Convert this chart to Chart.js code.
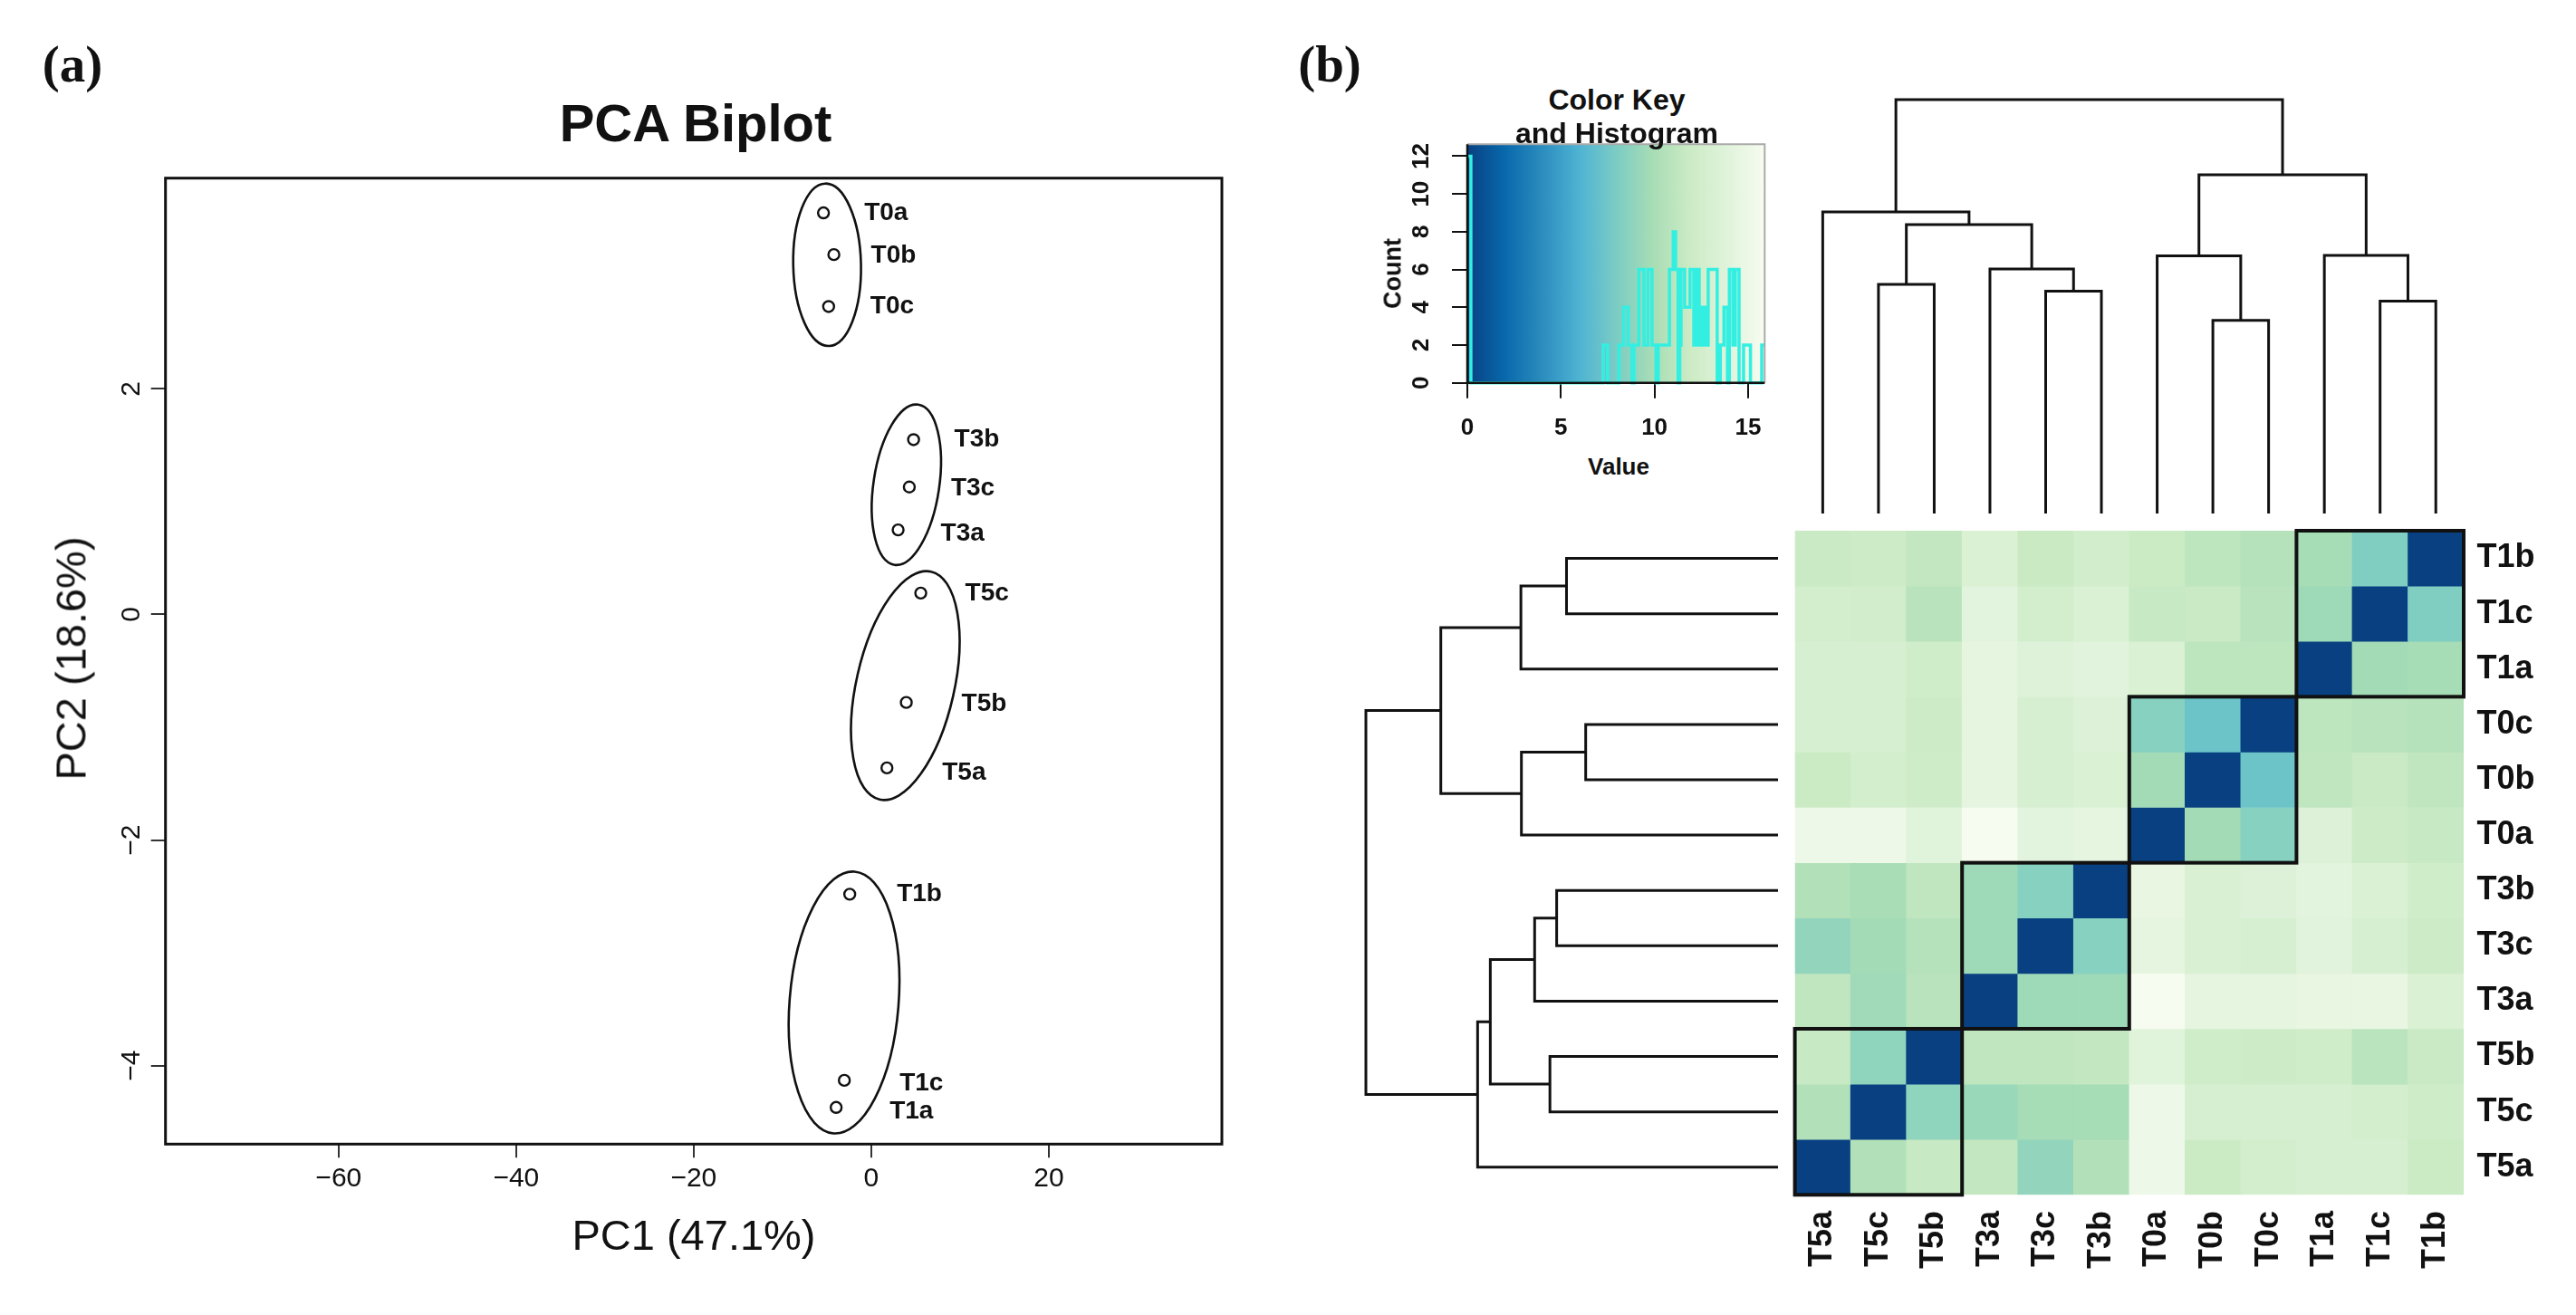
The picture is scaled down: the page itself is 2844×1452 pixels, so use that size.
<!DOCTYPE html>
<html>
<head>
<meta charset="utf-8">
<title>PCA biplot and sample distance heatmap</title>
<script src="https://cdn.jsdelivr.net/npm/chart.js@4.4.1/dist/chart.umd.min.js"></script>
<style>
  html, body { margin: 0; padding: 0; background: #fff; }
  body { width: 2844px; height: 1452px; position: relative; overflow: hidden;
         font-family: "Liberation Sans", Arial, sans-serif; color: #111; }
  canvas { position: absolute; }
  .lbl { position: absolute; line-height: 1; white-space: nowrap; transform: translate(-50%, -50%); }
  .rot { transform: translate(-50%, -50%) rotate(-90deg); }
  .serif { font-family: "Liberation Serif", "DejaVu Serif", serif; font-weight: bold; }
</style>
</head>
<body>
<canvas id="pca" width="1420" height="1452" style="left:0px;top:0px"></canvas>
<canvas id="key" width="490" height="360" style="left:1500px;top:140px"></canvas>
<canvas id="cdend" width="780" height="500" style="left:1960px;top:90px"></canvas>
<canvas id="rdend" width="495" height="774" style="left:1490px;top:566px"></canvas>
<canvas id="heat" width="869" height="882" style="left:1975px;top:570px"></canvas>

<div class="lbl serif" style="left:80px;top:70px;font-size:57px">(a)</div>
<div class="lbl serif" style="left:1468px;top:70px;font-size:57px">(b)</div>
<div class="lbl" style="left:768px;top:136px;font-size:58px;font-weight:bold">PCA Biplot</div>
<div class="lbl" style="left:766px;top:1363px;font-size:47px">PC1 (47.1%)</div>
<div class="lbl rot" style="left:78px;top:727px;font-size:47px">PC2 (18.6%)</div>
<div class="lbl" style="left:1785px;top:110px;font-size:32px;font-weight:bold">Color Key</div>
<div class="lbl" style="left:1785px;top:147px;font-size:32px;font-weight:bold">and Histogram</div>
<div class="lbl rot" style="left:1538px;top:302px;font-size:27px;font-weight:bold">Count</div>
<div class="lbl" style="left:1787px;top:515px;font-size:26px;font-weight:bold">Value</div>

<script>
// ---- PCA scores ----
const sampleNames = ['T0a', 'T0b', 'T0c', 'T3b', 'T3c', 'T3a', 'T5c', 'T5b', 'T5a', 'T1b', 'T1c', 'T1a'];
const pc1 = [-5.38, -4.21, -4.80, 4.77, 4.29, 3.03, 5.58, 3.95, 1.77, -2.42, -3.03, -3.95];
const pc2 = [3.56, 3.19, 2.73, 1.55, 1.13, 0.75, 0.19, -0.78, -1.36, -2.48, -4.13, -4.37];
const pcaXTicks = [-60, -40, -20, 0, 20];
const pcaYTicks = [-4, -2, 0, 2];

// group ellipses: centre, major semi-axis (data units), minor/major ratio
const ellipseGroups = ['T0', 'T3', 'T5', 'T1'];
const ellipseCenterX = [-4.97, 3.96, 3.84, -3.06];
const ellipseCenterY = [3.10, 1.15, -0.63, -3.44];
const ellipseMajorX = [-0.20, 1.34, 2.90, 1.19];
const ellipseMajorY = [0.72, 0.71, 1.01, 1.16];
const ellipseRatio = [0.417, 0.406, 0.419, 0.415];

// ---- sample distance heatmap ----
const colLabels = ['T5a', 'T5c', 'T5b', 'T3a', 'T3c', 'T3b', 'T0a', 'T0b', 'T0c', 'T1a', 'T1c', 'T1b'];
const rowLabels = ['T1b', 'T1c', 'T1a', 'T0c', 'T0b', 'T0a', 'T3b', 'T3c', 'T3a', 'T5b', 'T5c', 'T5a'];
const distRows = [
  [11.75, 11.99, 11.42, 13.30, 11.80, 12.42, 11.86, 11.09, 10.65, 9.85, 8.17, 0],
  [12.61, 12.42, 10.81, 14.16, 12.61, 13.30, 11.64, 11.75, 10.81, 9.50, 0, 8.17],
  [12.91, 12.91, 12.32, 14.33, 13.70, 13.99, 13.30, 11.09, 11.09, 0, 9.71, 9.85],
  [12.91, 12.91, 11.99, 14.33, 13.00, 13.50, 8.48, 7.29, 0, 11.09, 10.81, 10.65],
  [11.86, 12.61, 12.22, 14.33, 12.91, 13.30, 9.71, 0, 7.29, 11.25, 11.75, 11.25],
  [15.11, 15.11, 13.90, 15.89, 14.16, 14.33, 0, 9.71, 8.48, 13.50, 11.99, 11.64],
  [10.48, 9.93, 11.25, 9.50, 8.48, 0, 14.59, 13.20, 13.50, 14.16, 13.30, 12.32],
  [8.96, 9.71, 10.65, 9.50, 0, 8.48, 14.33, 13.20, 12.91, 13.99, 12.91, 11.99],
  [11.25, 9.60, 10.81, 0, 9.50, 9.50, 15.89, 14.33, 14.33, 14.59, 14.59, 13.30],
  [11.64, 8.83, 0, 11.25, 11.25, 11.42, 13.90, 12.32, 11.99, 12.32, 10.90, 11.75],
  [10.48, 0, 8.83, 9.32, 9.85, 9.85, 15.11, 12.91, 12.91, 12.91, 12.61, 12.22],
  [0, 10.48, 11.64, 11.42, 8.96, 10.48, 15.11, 11.86, 12.61, 12.91, 12.91, 11.86]
];
const clusterCols = [[9, 11], [6, 8], [3, 5], [0, 2]];
const clusterRows = [[0, 2], [3, 5], [6, 8], [9, 11]];

// hierarchical clustering (complete linkage), merges in order, 'mK' = K-th merge
const mergeLeft = ['T0b', 'T1c', 'T3c', 'T5c', 'T3a', 'T0a', 'T1a', 'm4', 'T5a', 'm6', 'm9'];
const mergeRight = ['T0c', 'T1b', 'T3b', 'T5b', 'm3', 'm1', 'm2', 'm5', 'm8', 'm7', 'm10'];
const mergeHeight = [7.42, 8.16, 8.54, 8.80, 9.39, 9.90, 9.92, 11.10, 11.59, 13.01, 15.90];

// ---- colour key and histogram ----
const keyRange = [0, 15.89];
const keyTicksX = [0, 5, 10, 15];
const keyTicksY = [0, 2, 4, 6, 8, 10, 12];
const histEdges = [0, 0.19, 7.26, 7.50, 8.10, 8.35, 8.60, 8.80, 8.90, 9.16, 9.44, 9.65, 9.87, 10.08,
  10.20, 10.80, 11.00, 11.13, 11.26, 11.35, 11.42, 11.61, 11.90, 12.10, 12.23, 12.39, 12.55, 12.71,
  12.87, 13.35, 13.52, 13.71, 13.90, 14.00, 14.19, 14.32, 14.52, 14.76, 15.13, 15.73, 15.89];
const histCounts = [12, 0, 2, 0, 2, 4, 2, 0, 2, 6, 2, 6, 2, 0, 2, 6, 8, 6, 0, 2, 6, 4, 6, 2, 6, 2,
  4, 2, 6, 0, 2, 4, 0, 6, 2, 6, 0, 2, 0, 2];

// reversed GnBu
const palette = ['#084081', '#0868ac', '#2b8cbe', '#4eb3d3', '#7bccc4', '#a8ddb5', '#ccebc5', '#e0f3db', '#f7fcf0'];

const FONT = '"Liberation Sans", Arial, sans-serif';
Chart.defaults.font.family = FONT;
Chart.defaults.color = '#111';

function hexRgb(h) {
  return [parseInt(h.slice(1, 3), 16), parseInt(h.slice(3, 5), 16), parseInt(h.slice(5, 7), 16)];
}

function valueToColor(v) {
  const t = Math.max(0, Math.min(1, (v - keyRange[0]) / (keyRange[1] - keyRange[0]))) * (palette.length - 1);
  const i = Math.min(Math.floor(t), palette.length - 2);
  const f = t - i;
  const a = hexRgb(palette[i]), b = hexRgb(palette[i + 1]);
  const c = a.map((x, k) => Math.round(x + (b[k] - x) * f));
  return 'rgb(' + c.join(',') + ')';
}

function minus(v) {
  return v < 0 ? '\u2212' + Math.abs(v) : String(v);
}

function fixTicks(list) {
  return function (scale) {
    scale.ticks = list.map((v) => ({ value: v }));
  };
}

// tick labels turned 90 degrees, R style
const rotatedTicks = {
  id: 'rotatedTicks',
  afterDraw(chart, args, opts) {
    (opts.items || []).forEach((it) => {
      const scale = chart.scales[it.scale];
      const ca = chart.chartArea;
      const ctx = chart.ctx;
      ctx.save();
      ctx.font = it.font;
      ctx.fillStyle = '#111';
      ctx.textAlign = it.align;
      ctx.textBaseline = 'middle';
      scale.ticks.forEach((t, i) => {
        const p = scale.getPixelForValue(t.value);
        const text = it.labels ? it.labels[i] : minus(t.value);
        const x = scale.isHorizontal() ? p : ca.left - it.offset;
        const y = scale.isHorizontal() ? ca.bottom + it.offset : p;
        ctx.save();
        ctx.translate(x, y);
        ctx.rotate(-Math.PI / 2);
        ctx.fillText(text, 0, 0);
        ctx.restore();
      });
      ctx.restore();
    });
  }
};

const noChrome = { legend: { display: false }, tooltip: { enabled: false } };

// ---------------- (a) PCA biplot ----------------
const pcaDecor = {
  id: 'pcaDecor',
  afterDatasetsDraw(chart) {
    const xs = chart.scales.x, ys = chart.scales.y, ctx = chart.ctx;
    ctx.save();
    ctx.strokeStyle = '#111';
    ctx.lineWidth = 2.6;
    ellipseGroups.forEach((g, i) => {
      const cx = xs.getPixelForValue(ellipseCenterX[i]);
      const cy = ys.getPixelForValue(ellipseCenterY[i]);
      const vx = xs.getPixelForValue(ellipseCenterX[i] + ellipseMajorX[i]) - cx;
      const vy = ys.getPixelForValue(ellipseCenterY[i] + ellipseMajorY[i]) - cy;
      const a = Math.hypot(vx, vy);
      ctx.beginPath();
      ctx.ellipse(cx, cy, a, a * ellipseRatio[i], Math.atan2(vy, vx), 0, Math.PI * 2);
      ctx.stroke();
    });
    const labelDx = [45, 41, 46, 45, 46, 47, 49, 61, 61, 52, 61, 59];
    const labelDy = [0, 1, 0, 0, 2, 4, 0, 2, 5, 0, 3, 4];
    ctx.font = 'bold 28px ' + FONT;
    ctx.fillStyle = '#111';
    ctx.textAlign = 'left';
    ctx.textBaseline = 'middle';
    sampleNames.forEach((n, i) => {
      ctx.fillText(n, xs.getPixelForValue(pc1[i]) + labelDx[i], ys.getPixelForValue(pc2[i]) + labelDy[i]);
    });
    ctx.restore();
  },
  afterDraw(chart) {
    const ca = chart.chartArea, ctx = chart.ctx;
    ctx.save();
    ctx.strokeStyle = '#111';
    ctx.lineWidth = 3;
    ctx.strokeRect(ca.left, ca.top, ca.right - ca.left, ca.bottom - ca.top);
    ctx.restore();
  }
};

new Chart(document.getElementById('pca'), {
  type: 'scatter',
  data: {
    datasets: [{
      data: sampleNames.map((n, i) => ({ x: pc1[i], y: pc2[i] })),
      pointStyle: 'circle',
      pointRadius: 6,
      pointBorderWidth: 2.4,
      pointBorderColor: '#111',
      pointBackgroundColor: 'rgba(255,255,255,0)'
    }]
  },
  options: {
    responsive: false,
    animation: false,
    devicePixelRatio: 1,
    layout: { padding: { left: 0, top: 196.7, right: 71, bottom: 0 } },
    plugins: {
      ...noChrome,
      rotatedTicks: { items: [{ scale: 'y', font: '30px ' + FONT, align: 'center', offset: 36.7 }] }
    },
    scales: {
      x: {
        type: 'linear', min: -79.5, max: 39.5,
        afterBuildTicks: fixTicks(pcaXTicks),
        afterFit: (s) => { s.height = 188.7; },
        grid: { drawOnChartArea: false, drawTicks: true, tickLength: 15, color: '#333', lineWidth: 2 },
        border: { display: false },
        ticks: { font: { size: 30 }, color: '#111', padding: 5.4, maxRotation: 0, autoSkip: false, callback: (v) => minus(v) }
      },
      y: {
        type: 'linear', min: -4.695, max: 3.868,
        afterBuildTicks: fixTicks(pcaYTicks),
        afterFit: (s) => { s.width = 182.7; },
        grid: { drawOnChartArea: false, drawTicks: true, tickLength: 16, color: '#333', lineWidth: 2 },
        border: { display: false },
        ticks: { display: false }
      }
    }
  },
  plugins: [pcaDecor, rotatedTicks]
});

// ---------------- (b) colour key + histogram ----------------
const keyDecor = {
  id: 'keyDecor',
  beforeDatasetsDraw(chart) {
    const ca = chart.chartArea, ctx = chart.ctx, xs = chart.scales.x;
    const g = ctx.createLinearGradient(ca.left, 0, ca.right, 0);
    palette.forEach((c, i) => {
      const v = keyRange[0] + (keyRange[1] - keyRange[0]) * i / (palette.length - 1);
      const f = (xs.getPixelForValue(v) - ca.left) / (ca.right - ca.left);
      g.addColorStop(Math.max(0, Math.min(1, f)), c);
    });
    ctx.save();
    ctx.fillStyle = g;
    ctx.fillRect(ca.left, ca.top, ca.right - ca.left, ca.bottom - ca.top);
    ctx.restore();
  },
  afterDraw(chart) {
    const ca = chart.chartArea, ctx = chart.ctx;
    ctx.save();
    ctx.lineWidth = 2;
    ctx.strokeStyle = '#aaa';
    ctx.beginPath();
    ctx.moveTo(ca.left, ca.top); ctx.lineTo(ca.right, ca.top); ctx.lineTo(ca.right, ca.bottom);
    ctx.stroke();
    ctx.lineWidth = 2.5;
    ctx.strokeStyle = '#111';
    ctx.beginPath();
    ctx.moveTo(ca.left, ca.top); ctx.lineTo(ca.left, ca.bottom); ctx.lineTo(ca.right, ca.bottom);
    ctx.stroke();
    ctx.restore();
  }
};

new Chart(document.getElementById('key'), {
  type: 'scatter',
  data: {
    datasets: [{
      data: histEdges.map((e, i) => ({ x: e, y: histCounts[Math.min(i, histCounts.length - 1)] })),
      showLine: true,
      stepped: 'before',
      borderColor: '#33efe2',
      borderWidth: 3.5,
      pointRadius: 0,
      clip: false
    }]
  },
  options: {
    responsive: false,
    animation: false,
    devicePixelRatio: 1,
    layout: { padding: { left: 0, top: 19.3, right: 41.7, bottom: 0 } },
    plugins: {
      ...noChrome,
      rotatedTicks: { items: [{ scale: 'y', font: 'bold 26px ' + FONT, align: 'center', offset: 50 }] }
    },
    scales: {
      x: {
        type: 'linear', min: keyRange[0], max: keyRange[1], z: 1,
        afterBuildTicks: fixTicks(keyTicksX),
        afterFit: (s) => { s.height = 77.3; },
        grid: { drawOnChartArea: false, drawTicks: true, tickLength: 17, color: '#111', lineWidth: 2 },
        border: { display: false },
        ticks: { font: { size: 26, weight: 'bold' }, color: '#111', padding: 18, maxRotation: 0, autoSkip: false }
      },
      y: {
        type: 'linear', min: 0, max: 12.632, z: 1,
        afterBuildTicks: fixTicks(keyTicksY),
        afterFit: (s) => { s.width = 120; },
        grid: { drawOnChartArea: false, drawTicks: true, tickLength: 17, color: '#111', lineWidth: 2 },
        border: { display: false },
        ticks: { display: false }
      }
    }
  },
  plugins: [keyDecor, rotatedTicks]
});

// ---------------- dendrograms ----------------
function dendroSegments(order) {
  const pos = {}, hgt = {};
  order.forEach((n, i) => { pos[n] = i; hgt[n] = 0; });
  return mergeHeight.map((h, k) => {
    const l = mergeLeft[k], r = mergeRight[k];
    const seg = [[pos[l], hgt[l]], [pos[l], h], [pos[r], h], [pos[r], hgt[r]]];
    pos['m' + (k + 1)] = (pos[l] + pos[r]) / 2;
    hgt['m' + (k + 1)] = h;
    return seg;
  });
}

function dendroDatasets(order, horizontal) {
  return dendroSegments(order).map((seg) => ({
    data: seg.map(([p, h]) => (horizontal ? { x: h, y: p } : { x: p, y: h })),
    showLine: true,
    borderColor: '#111',
    borderWidth: 3,
    borderJoinStyle: 'miter',
    pointRadius: 0,
    clip: false
  }));
}

new Chart(document.getElementById('cdend'), {
  type: 'scatter',
  data: { datasets: dendroDatasets(colLabels, false) },
  options: {
    responsive: false,
    animation: false,
    devicePixelRatio: 1,
    layout: { padding: { left: 21.6, top: 20, right: 20, bottom: 23 } },
    plugins: noChrome,
    scales: {
      x: { type: 'linear', min: -0.5, max: colLabels.length - 0.5, display: false },
      y: { type: 'linear', min: 0, max: mergeHeight[mergeHeight.length - 1], display: false }
    }
  }
});

new Chart(document.getElementById('rdend'), {
  type: 'scatter',
  data: { datasets: dendroDatasets(rowLabels, true) },
  options: {
    responsive: false,
    animation: false,
    devicePixelRatio: 1,
    layout: { padding: { left: 18, top: 20, right: 22, bottom: 20.7 } },
    plugins: noChrome,
    scales: {
      x: { type: 'linear', min: 0, max: mergeHeight[mergeHeight.length - 1], reverse: true, display: false },
      y: { type: 'linear', min: -0.5, max: rowLabels.length - 0.5, reverse: true, display: false }
    }
  }
});

// ---------------- heatmap ----------------
const heatDecor = {
  id: 'heatDecor',
  afterDatasetsDraw(chart) {
    const xs = chart.scales.x, ys = chart.scales.y, ctx = chart.ctx, ca = chart.chartArea;
    const half = (xs.getPixelForValue(1) - xs.getPixelForValue(0)) / 2;
    ctx.save();
    ctx.strokeStyle = '#111';
    ctx.lineWidth = 4;
    clusterCols.forEach((cc, i) => {
      const rr = clusterRows[i];
      const x0 = xs.getPixelForValue(cc[0]) - half;
      const x1 = xs.getPixelForValue(cc[1]) + half;
      const y0 = ys.getPixelForValue(rr[0]);
      const y1 = ys.getPixelForValue(rr[1] + 1);
      ctx.strokeRect(x0, y0, x1 - x0, y1 - y0);
    });
    // row labels on the right, centred on each row
    ctx.font = 'bold 36px ' + FONT;
    ctx.fillStyle = '#111';
    ctx.textAlign = 'left';
    ctx.textBaseline = 'middle';
    rowLabels.forEach((r, i) => {
      ctx.fillText(r, ca.right + 14.5, ys.getPixelForValue(i + 0.5));
    });
    ctx.restore();
  }
};

new Chart(document.getElementById('heat'), {
  type: 'bar',
  data: {
    labels: colLabels,
    datasets: rowLabels.map((r, ri) => ({
      label: r,
      data: colLabels.map(() => 1),
      backgroundColor: distRows[ri].map(valueToColor),
      borderWidth: 0,
      barPercentage: 1,
      categoryPercentage: 1
    }))
  },
  options: {
    responsive: false,
    animation: false,
    devicePixelRatio: 1,
    layout: { padding: { left: 6.6, top: 16, right: 124, bottom: 0 } },
    plugins: {
      ...noChrome,
      rotatedTicks: { items: [{ scale: 'x', font: 'bold 36px ' + FONT, align: 'right', offset: 17.7, labels: colLabels }] }
    },
    scales: {
      x: {
        type: 'category', stacked: true,
        afterFit: (s) => { s.height = 132.7; },
        grid: { display: false, drawTicks: false },
        border: { display: false },
        ticks: { display: false }
      },
      y: { type: 'linear', stacked: true, min: 0, max: rowLabels.length, reverse: true, display: false }
    }
  },
  plugins: [heatDecor, rotatedTicks]
});
</script>
</body>
</html>
